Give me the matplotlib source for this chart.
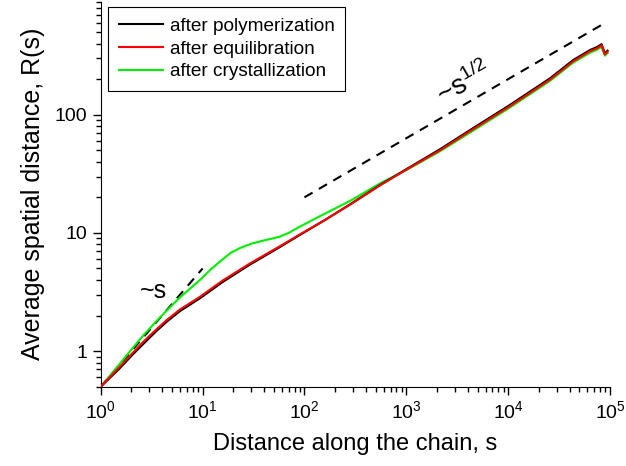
import numpy as np
import matplotlib
matplotlib.use('Agg')
import matplotlib.pyplot as plt
from matplotlib.ticker import FixedLocator, LogLocator, NullFormatter

plt.rcParams['font.family'] = ['Liberation Sans', 'DejaVu Sans']
plt.rcParams['mathtext.fontset'] = 'custom'
plt.rcParams['mathtext.rm'] = 'Liberation Sans'
plt.rcParams['mathtext.it'] = 'Liberation Sans'

### data ###
s_poly = [1, 1.5, 2, 2.62, 3.5, 4.44, 6, 9.43, 15.8, 29.2, 57.5, 90, 160, 279,
          551, 1000, 2140, 4210, 10400, 25700, 43500, 63400, 75000, 82600, 88900, 94500]
R_poly = [0.5, 0.7, 0.91, 1.15, 1.47, 1.77, 2.18, 2.8, 3.85, 5.4, 7.6, 9.6, 12.9, 17.4,
          25.4, 34.6, 51, 74, 121, 203, 290, 352, 375, 395, 330, 348]

s_equi = s_poly
R_equi = [0.5, 0.72, 0.94, 1.2, 1.52, 1.83, 2.25, 2.88, 3.96, 5.52, 7.72, 9.7, 12.9, 17.3,
          25.2, 34.3, 50, 72.5, 118, 198, 283, 344, 366, 386, 324, 340]

s_cryst = [1, 1.5, 2, 2.62, 3.5, 4.44, 6, 9.43, 12, 15.8, 19, 23.3, 30, 39.2, 48, 57.5,
           70, 90, 150, 279, 551, 1000, 2140, 4210, 10400, 25700, 43500, 63400, 75000,
           82600, 88900, 94500]
R_cryst = [0.5, 0.76, 1.03, 1.36, 1.78, 2.2, 2.85, 4.0, 4.9, 6.0, 6.8, 7.45, 8.1, 8.6, 8.95, 9.3,
           10.0, 11.3, 14.2, 18.6, 26.2, 34.0, 49, 70.5, 115, 193, 276, 334, 356,
           375, 316, 333]

# guide lines ~s and ~s^1/2
s_lin = [1, 10]
R_lin = [0.5, 5]
s_half = [100, 90000]
R_half = [20, 600]

fig = plt.figure(figsize=(6.26, 4.66), dpi=100)
ax = fig.add_axes([0.1609, 0.1702, 0.8136, 0.8257])

ax.plot(s_poly, R_poly, color='black', lw=1.5, label='after polymerization', zorder=3)
ax.plot(s_equi, R_equi, color='#ff0000', lw=1.5, label='after equilibration', zorder=4)
ax.plot(s_cryst, R_cryst, color='#00ee00', lw=1.5, label='after crystallization', zorder=2)

ax.plot(s_lin, R_lin, color='black', lw=1.5, dashes=(4.5, 3.5), zorder=1)
ax.plot(s_half, R_half, color='black', lw=1.5, dashes=(4.5, 3.5), zorder=1)

ax.text(3.3, 3.2, '~s', fontsize=18, ha='center', va='center')
ax.text(3700, 185, r'~s$^{1/2}$', fontsize=20, ha='center', va='center', rotation=30)

ax.set_xscale('log')
ax.set_yscale('log')
ax.set_xlim(1, 1e5)
ax.set_ylim(0.5, 900)

ax.yaxis.set_major_locator(FixedLocator([1, 10, 100]))
ax.set_yticklabels(['1', '10', '100'])
ax.yaxis.set_minor_locator(LogLocator(base=10, subs=np.arange(2, 10)))
ax.yaxis.set_minor_formatter(NullFormatter())
ax.xaxis.set_minor_locator(LogLocator(base=10, subs=np.arange(2, 10), numticks=20))
ax.xaxis.set_minor_formatter(NullFormatter())

ax.spines['top'].set_visible(False)
ax.spines['right'].set_visible(False)
ax.tick_params(which='major', direction='out', length=6, width=1, labelsize=14)
ax.tick_params(which='minor', direction='out', length=3.5, width=1)

ax.set_xlabel('Distance along the chain, s', fontsize=17, labelpad=8)
ax.set_ylabel('Average spatial distance, R(s)', fontsize=18, labelpad=7)

leg = ax.legend(loc='upper left', bbox_to_anchor=(108.3 / 626, 1 - 7.3 / 466),
                bbox_transform=fig.transFigure, borderaxespad=0, fontsize=13.7,
                fancybox=False, framealpha=1, edgecolor='black', handlelength=2.3,
                labelspacing=0.28, borderpad=0.55, handletextpad=0.4)
leg.get_frame().set_linewidth(0.8)

fig.savefig('out.png', dpi=100)
